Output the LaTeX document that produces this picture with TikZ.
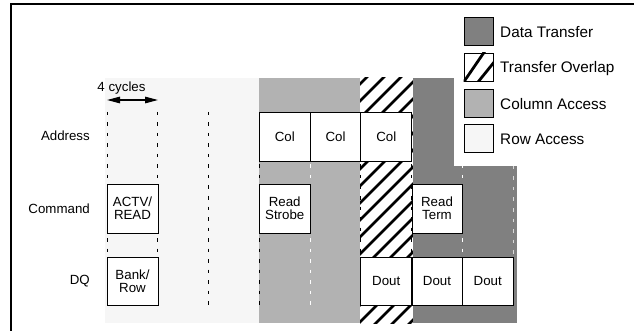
\documentclass[tikz,border=0pt]{standalone}
\usepackage{fontspec}
\setmainfont{Liberation Sans}
\usetikzlibrary{arrows.meta}
\definecolor{rowc}{gray}{0.965}
\definecolor{colc}{gray}{0.70}
\definecolor{datc}{gray}{0.50}
\tikzset{
  lab/.style={font=\fontsize{13.3}{13.3}\selectfont, inner sep=0pt, align=center},
  rowlab/.style={lab, anchor=east},
  cell/.style={draw=black, line width=0.9pt, fill=white, inner sep=0pt, minimum height=49pt,
               font=\fontsize{13.3}{13.3}\selectfont, align=center},
  grid/.style={line width=0.9pt, dash pattern=on 3.5pt off 7pt},
  swatch/.style={draw=black, line width=0.9pt, inner sep=0pt, minimum width=29pt, minimum height=28pt},
  legtext/.style={font=\fontsize{15.3}{15.3}\selectfont, inner sep=0pt, anchor=west},
  stripe/.style={line width=2.8pt, line cap=butt}
}
\begin{document}
\begin{tikzpicture}[x=1pt,y=-1pt]
\useasboundingbox (0,0) rectangle (634,331);
\fill[white] (0,0) rectangle (634,331);
% frame
\draw[line width=1.4pt] (11,331) -- (11,4) -- (634,4);
% phase regions
\fill[rowc] (105,78) rectangle (259,323);
\fill[colc] (259,78) rectangle (360,323);
\begin{scope}
  \clip (360,78) rectangle (413,323);
  \foreach \c in {60,77,...,420} \draw[stripe] (350,\c) -- ++(80,-80);
\end{scope}
\fill[datc] (413,78) rectangle (517,323);
\fill[white] (454,5) rectangle (634,166);
% grid lines
\foreach \k in {0,1,2,3,5,6} \draw[grid, black] ({107+50.75*\k},112) -- ({107+50.75*\k},305);
\foreach \k in {4,7} \draw[grid, white] ({107+50.75*\k},112) -- ({107+50.75*\k},305);
\draw[grid, white!85!black] (513,166) -- (513,305);
% 4 cycles arrow
\coordinate (c0) at (107,100);
\coordinate (c1) at (158,100);
\draw[line width=1.3pt, {Triangle[length=13pt,width=6.5pt]}-{Triangle[length=13pt,width=6.5pt]}] (c0) -- (c1);
\node[lab] (cyc) at (121.5,88) {4 cycles};
% row labels
\node[rowlab] (laddr) at (90,136) {Address};
\node[rowlab] (lcmd) at (90,208.5) {Command};
\node[rowlab] (ldq) at (90,281) {DQ};
% address row
\node[cell, minimum width=51pt] (col1) at (284.75,136.5) {Col};
\node[cell, minimum width=50pt] (col2) at (335.5,136.5) {Col};
\node[cell, minimum width=51pt] (col3) at (386.25,136.5) {Col};
% command row
\node[cell, minimum width=51pt] (actv) at (132.5,208.5) {ACTV/\\READ};
\node[cell, minimum width=51pt] (rstr) at (284.75,208.5) {Read\\Strobe};
\node[cell, minimum width=50pt] (rterm) at (437,208.5) {Read\\Term};
% DQ row
\node[cell, minimum width=51pt, minimum height=48pt] (bank) at (132.5,281) {Bank/\\Row};
\node[cell, minimum width=51pt, minimum height=48pt] (dout1) at (386.25,281) {Dout};
\node[cell, minimum width=50pt, minimum height=48pt] (dout2) at (437,281) {Dout};
\node[cell, minimum width=51pt, minimum height=48pt] (dout3) at (487.75,281) {Dout};
% legend
\node[swatch, fill=datc] (sw1) at (478.5,31) {};
\node[swatch, fill=white] (sw2) at (478.5,67) {};
\begin{scope}
  \clip (sw2.south west) rectangle (sw2.north east);
  \draw[stripe] (461,86) -- (487,48);
  \draw[stripe] (470,92) -- (499,56);
\end{scope}
\node[swatch, draw=black] (sw2b) at (478.5,67) {};
\node[swatch, fill=colc] (sw3) at (478.5,103) {};
\node[swatch, fill=rowc] (sw4) at (478.5,138.5) {};
\node[legtext] (t1) at (500,32) {Data Transfer};
\node[legtext] (t2) at (500,69) {Transfer Overlap};
\node[legtext] (t3) at (500,104) {Column Access};
\node[legtext] (t4) at (500,139.5) {Row Access};
\end{tikzpicture}
\end{document}
